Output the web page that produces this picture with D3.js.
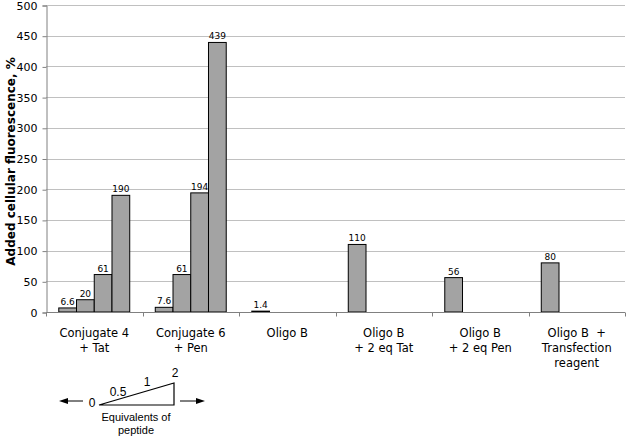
<!DOCTYPE html>
<html>
<head>
<meta charset="utf-8">
<script src="https://cdn.jsdelivr.net/npm/d3@7"></script>
<style>
  body { margin: 0; background: #fff; }
  svg { display: block; }
  text { font-family: "DejaVu Sans", Verdana, sans-serif; fill: #000; }
</style>
</head>
<body>
<div id="viz"></div>
<script>
// categories (each one split in lines)
var categories = [
    ["Conjugate 4", "+ Tat"],
    ["Conjugate 6", "+ Pen"],
    ["Oligo B"],
    ["Oligo B", "+ 2 eq Tat"],
    ["Oligo B", "+ 2 eq Pen"],
    ["Oligo B  +", "Transfection", "reagent"]
];

// equivalents of peptide (one series each)
var seriesKeys = ["0", "0.5", "1", "2"];
var eq0  = [6.6, 7.6, 1.4, 110, 56, 80];
var eq05 = [20, 61, null, null, null, null];
var eq1  = [61, 194, null, null, null, null];
var eq2  = [190, 439, null, null, null, null];
var series = [eq0, eq05, eq1, eq2];

var yTicks = [0, 50, 100, 150, 200, 250, 300, 350, 400, 450, 500];

var width = 627,
    height = 437;

var margin = {left: 46, right: 2, top: 5, bottom: 125};

var svg = d3.select("div#viz")
    .append("svg")
    .attr("width", width)
    .attr("height", height);

var x0 = d3.scaleBand()
    .domain(d3.range(categories.length))
    .range([margin.left, width - margin.right]);

var x1 = d3.scaleBand()
    .domain(seriesKeys)
    .range([0, x0.bandwidth()])
    .paddingOuter(0.72);

var y = d3.scaleLinear()
    .domain([0, 500])
    .range([height - margin.bottom, margin.top]);

// gridlines
svg.append("g")
    .selectAll("line")
    .data(yTicks.slice(1))
    .enter().append("line")
    .attr("x1", margin.left)
    .attr("x2", width - margin.right)
    .attr("y1", function(d) { return Math.round(y(d)) + 0.5; })
    .attr("y2", function(d) { return Math.round(y(d)) + 0.5; })
    .attr("stroke", "#c0c0c0");

// y axis
var yAxis = svg.append("g")
    .attr("transform", "translate(" + (margin.left + 0.5) + ",0.5)")
    .call(d3.axisLeft(y).tickValues(yTicks).tickSize(4).tickPadding(5));
yAxis.select(".domain").attr("stroke", "#808080");
yAxis.selectAll(".tick line").attr("stroke", "#808080");
yAxis.selectAll("text")
    .style("font-family", "DejaVu Sans, Verdana, sans-serif")
    .style("font-size", "11px");

// y title
svg.append("text")
    .attr("transform", "translate(15," + ((y(0) + y(500)) / 2 + 3) + ") rotate(-90)")
    .attr("text-anchor", "middle")
    .style("font-size", "12px")
    .style("font-weight", "bold")
    .text("Added cellular fluorescence, %");

// bars
var groups = svg.append("g")
    .selectAll("g")
    .data(categories)
    .enter().append("g")
    .attr("transform", function(d, i) { return "translate(" + x0(i) + ",0)"; });

var barData = function(d, i) {
    return seriesKeys.map(function(k, j) {
        return {key: k, value: series[j][i]};
    }).filter(function(e) { return e.value != null; });
};

groups.selectAll("rect")
    .data(barData)
    .enter().append("rect")
    .attr("x", function(d) { return x1(d.key); })
    .attr("y", function(d) { return y(d.value); })
    .attr("width", x1.bandwidth())
    .attr("height", function(d) { return y(0) - y(d.value); })
    .attr("fill", "#a3a3a3")
    .attr("stroke", "#000")
    .attr("stroke-width", 1);

groups.selectAll("text.val")
    .data(barData)
    .enter().append("text")
    .attr("class", "val")
    .attr("x", function(d) { return x1(d.key) + x1.bandwidth() / 2; })
    .attr("y", function(d) { return y(d.value) - 3; })
    .attr("text-anchor", "middle")
    .style("font-size", "9px")
    .text(function(d) { return String(d.value); });

// x axis
var xAxisY = Math.round(y(0)) + 0.5;
svg.append("line")
    .attr("x1", margin.left)
    .attr("x2", width - margin.right)
    .attr("y1", xAxisY)
    .attr("y2", xAxisY)
    .attr("stroke", "#808080");

svg.append("g")
    .selectAll("line")
    .data(d3.range(categories.length + 1))
    .enter().append("line")
    .attr("x1", function(i) { return Math.round(margin.left + i * x0.step()) + 0.5; })
    .attr("x2", function(i) { return Math.round(margin.left + i * x0.step()) + 0.5; })
    .attr("y1", xAxisY)
    .attr("y2", xAxisY + 4)
    .attr("stroke", "#808080");

var xLabels = svg.append("g")
    .selectAll("text")
    .data(categories)
    .enter().append("text")
    .attr("x", function(d, i) { return x0(i) + x0.bandwidth() / 2; })
    .attr("y", 337)
    .attr("text-anchor", "middle")
    .style("font-size", "11.5px")
    .style("white-space", "pre");

xLabels.selectAll("tspan")
    .data(function(d) { return d; })
    .enter().append("tspan")
    .attr("x", function() { return d3.select(this.parentNode).attr("x"); })
    .attr("dy", function(d, i) { return i == 0 ? 0 : 15; })
    .text(function(d) { return d; });

// legend: equivalents of peptide
var leg = svg.append("g");

leg.append("path")
    .attr("d", "M99,405 L174,383 L174,405 Z")
    .attr("fill", "none")
    .attr("stroke", "#000")
    .attr("stroke-width", 1.2);

var legLabels = [
    {t: "0", x: 92, y: 407},
    {t: "0.5", x: 118, y: 396},
    {t: "1", x: 147, y: 386},
    {t: "2", x: 175, y: 377}
];
leg.selectAll("text.eq")
    .data(legLabels)
    .enter().append("text")
    .attr("class", "eq")
    .attr("x", function(d) { return d.x; })
    .attr("y", function(d) { return d.y; })
    .attr("text-anchor", "middle")
    .style("font-family", "Liberation Sans, Arial, sans-serif")
    .style("font-size", "12px")
    .text(function(d) { return d.t; });

// arrows
leg.append("line").attr("x1", 66).attr("x2", 83).attr("y1", 401).attr("y2", 401).attr("stroke", "#000");
leg.append("path").attr("d", "M59,401 L68,398 L68,404 Z").attr("fill", "#000");
leg.append("line").attr("x1", 180).attr("x2", 198).attr("y1", 401).attr("y2", 401).attr("stroke", "#000");
leg.append("path").attr("d", "M205,401 L196,398 L196,404 Z").attr("fill", "#000");

leg.selectAll("text.cap")
    .data(["Equivalents of", "peptide"])
    .enter().append("text")
    .attr("class", "cap")
    .attr("x", 136)
    .attr("y", function(d, i) { return 421 + i * 12.5; })
    .attr("text-anchor", "middle")
    .style("font-family", "Liberation Sans, Arial, sans-serif")
    .style("font-size", "11px")
    .text(function(d) { return d; });
</script>
</body>
</html>
